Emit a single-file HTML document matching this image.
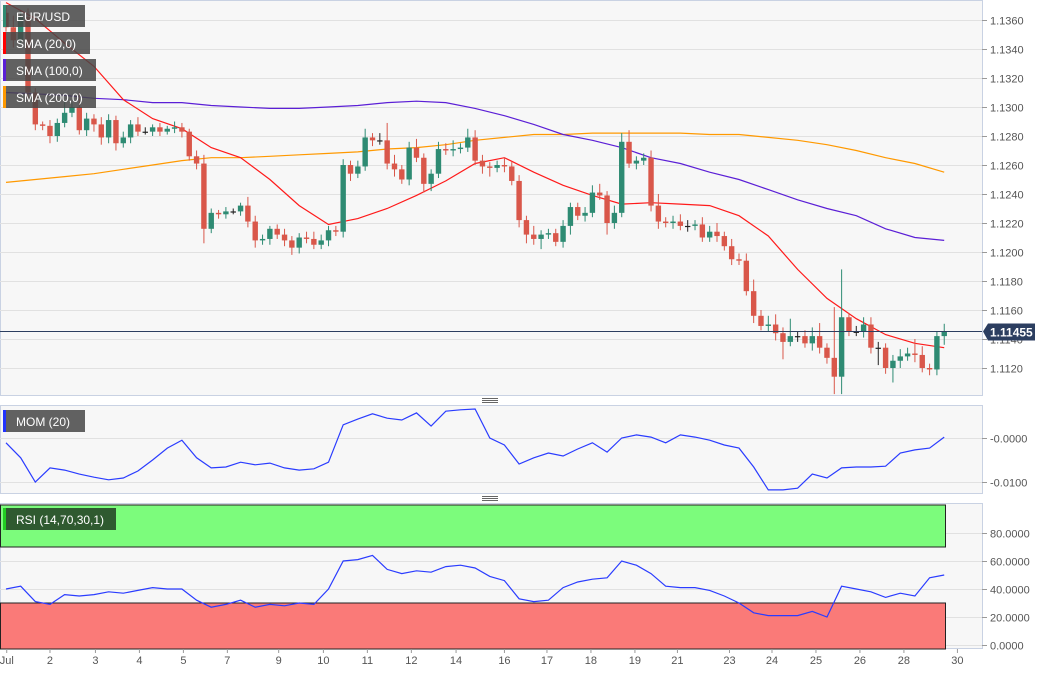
<!DOCTYPE html>
<html><head><meta charset="utf-8"><style>
body{margin:0;background:#fff;font-family:"Liberation Sans",sans-serif;}
svg{display:block}
text{font-family:"Liberation Sans",sans-serif}
</style></head><body>
<svg id="chart" width="1053" height="673" viewBox="0 0 1053 673" xmlns="http://www.w3.org/2000/svg">
<rect width="1053" height="673" fill="#ffffff"/>
<rect x="0.5" y="0.5" width="982" height="395" fill="#f7f7f7" stroke="#c9d2e3"/>
<rect x="0.5" y="405.5" width="982" height="88" fill="#f7f7f7" stroke="#c9d2e3"/>
<rect x="0.5" y="503.5" width="982" height="145" fill="#f7f7f7" stroke="#c9d2e3"/>
<g id="grid"></g>
<g id="bands"></g>
<g id="lines"></g>
<g id="candles"></g>
<g id="axes"></g>
<g stroke="#666"><line x1="482" x2="498" y1="398.5" y2="398.5"/><line x1="482" x2="498" y1="400.5" y2="400.5"/><line x1="482" x2="498" y1="402.5" y2="402.5"/></g>
<g stroke="#666"><line x1="482" x2="498" y1="496.5" y2="496.5"/><line x1="482" x2="498" y1="498.5" y2="498.5"/><line x1="482" x2="498" y1="500.5" y2="500.5"/></g>
<g><rect x="3" y="5" width="82" height="22" fill="rgba(70,70,70,0.85)"/><rect x="3" y="5" width="3" height="22" fill="#2e8b73"/><text x="16" y="21" font-size="12" fill="#fff">EUR/USD</text></g>
<g><rect x="3" y="32" width="87" height="22" fill="rgba(70,70,70,0.85)"/><rect x="3" y="32" width="3" height="22" fill="#ff0000"/><text x="16" y="48" font-size="12" fill="#fff">SMA (20,0)</text></g>
<g><rect x="3" y="59" width="93" height="22" fill="rgba(70,70,70,0.85)"/><rect x="3" y="59" width="3" height="22" fill="#5b1fd6"/><text x="16" y="75" font-size="12" fill="#fff">SMA (100,0)</text></g>
<g><rect x="3" y="86" width="93" height="22" fill="rgba(70,70,70,0.85)"/><rect x="3" y="86" width="3" height="22" fill="#ff9900"/><text x="16" y="102" font-size="12" fill="#fff">SMA (200,0)</text></g>
<g><rect x="3" y="410" width="82" height="22" fill="rgba(70,70,70,0.85)"/><rect x="3" y="410" width="3" height="22" fill="#2233ff"/><text x="16" y="426" font-size="12" fill="#fff">MOM (20)</text></g>
<g><rect x="3" y="508" width="113" height="22" fill="#2f5a30"/><rect x="3" y="508" width="3" height="22" fill="#22cc22"/><text x="16" y="524" font-size="12" fill="#fff">RSI (14,70,30,1)</text></g>
</svg>
<script>
const closes=[1.1355,1.1346,1.1362,1.1310,1.1288,1.1287,1.1280,1.1289,1.1296,1.1300,
1.1284,1.1292,1.1288,1.1279,1.1291,1.1275,1.1279,1.1288,1.1283,1.1283,
1.1286,1.1283,1.1285,1.1286,1.1283,1.1266,1.1261,1.1216,1.1227,1.1226,
1.1228,1.1228,1.1232,1.1221,1.1208,1.1209,1.1216,1.1212,1.1208,1.1203,
1.1210,1.1209,1.1205,1.1208,1.1215,1.1214,1.1260,1.1254,1.1259,1.1279,
1.1277,1.1277,1.1261,1.1257,1.1250,1.1272,1.1265,1.1247,1.1254,1.1271,
1.1270,1.1271,1.1272,1.1279,1.1263,1.1259,1.1258,1.1260,1.1259,1.1249,
1.1222,1.1212,1.1209,1.1212,1.1213,1.1207,1.1218,1.1231,1.1225,1.1227,
1.1241,1.1239,1.1220,1.1227,1.1276,1.1261,1.1263,1.1265,1.1232,1.1221,
1.1220,1.1221,1.1218,1.1218,1.1219,1.1210,1.1214,1.1211,1.1204,1.1195,
1.1194,1.1173,1.1156,1.1149,1.1150,1.1144,1.1138,1.1142,1.1142,1.1137,
1.1142,1.1134,1.1127,1.1114,1.1155,1.1145,1.1145,1.1150,1.1134,1.1134,
1.1120,1.1125,1.1128,1.1130,1.1129,1.1120,1.1119,1.1142,1.11455];
const firstOpen=1.1365;
const hiPips=[5,8,4,6,3,2,4,3,8,3,10,4,3,5,4,3,4,3,5,3,2,3,2,4,3,2,4,6,3,2,3,2,2,6,4,3,2,3,4,3,3,4,5,4,3,3,4,3,4,6,3,5,12,6,3,4,6,3,3,5,4,6,3,6,5,4,3,3,5,3,4,3,6,3,3,3,4,3,3,4,5,6,3,5,6,8,3,3,5,8,3,4,5,4,3,5,4,6,3,5,4,5,8,4,6,7,4,12,3,4,6,9,3,35,33,3,4,5,5,4,3,4,5,4,10,6,3,3,5];
const loPips=[3,5,3,6,4,3,5,4,3,3,3,4,5,5,4,5,3,4,3,2,3,3,2,3,4,3,4,10,3,3,3,2,3,4,5,3,4,3,4,5,4,3,3,3,4,3,4,5,3,3,4,3,4,5,3,4,3,6,5,3,3,4,3,3,3,5,6,3,4,3,5,6,4,7,3,3,4,6,3,4,3,3,8,4,3,3,4,3,4,5,3,4,3,4,3,3,3,4,3,4,3,3,5,3,4,5,12,3,4,3,5,4,4,12,12,3,3,4,4,12,4,10,5,3,5,3,4,4,6];
const knotIdx=[0,4,8,12,16,20,24,28,32,36,40,44,48,52,56,60,64,68,72,76,80,84,88,92,96,100,104,108,112,116,120,124,128];
const sma20=[1.1372,1.1361,1.1344,1.1328,1.1305,1.1292,1.1285,1.1272,1.1265,1.1250,1.1232,1.1219,1.1223,1.1230,1.1239,1.1249,1.1261,1.1265,1.1255,1.1246,1.1239,1.1233,1.1234,1.1233,1.1232,1.1225,1.1211,1.1188,1.1168,1.1154,1.1143,1.1137,1.1134];
const sma100=[1.1310,1.1309,1.1308,1.1306,1.1305,1.1303,1.1303,1.1301,1.1300,1.1299,1.1299,1.1300,1.1301,1.1303,1.1304,1.1303,1.1299,1.1294,1.1288,1.1281,1.1277,1.1272,1.1265,1.1261,1.1255,1.1250,1.1243,1.1236,1.1230,1.1225,1.1216,1.1210,1.1208];
const sma200=[1.1248,1.1250,1.1252,1.1254,1.1257,1.1260,1.1263,1.1265,1.1265,1.1266,1.1267,1.1268,1.1269,1.1271,1.1272,1.1274,1.1277,1.1279,1.1281,1.1281,1.1282,1.1282,1.1282,1.1282,1.1281,1.1281,1.1279,1.1277,1.1274,1.1270,1.1265,1.1261,1.1255];
const momIdx=[0,2,4,6,8,10,12,14,16,18,20,22,24,26,28,30,32,34,36,38,40,42,44,46,48,50,52,54,56,58,60,62,64,66,68,70,72,74,76,78,80,82,84,86,88,90,92,94,96,98,100,102,104,106,108,110,112,114,116,118,120,122,124,126,128];
const mom=[-0.0011,-0.0045,-0.0100,-0.0068,-0.0073,-0.0082,-0.0089,-0.0095,-0.0091,-0.0075,-0.0050,-0.0023,-0.0005,-0.0045,-0.0068,-0.0066,-0.0055,-0.0061,-0.0057,-0.0068,-0.0073,-0.0070,-0.0055,0.0030,0.0043,0.0055,0.0045,0.0041,0.0057,0.0027,0.0061,0.0064,0.0066,0.0000,-0.0016,-0.0059,-0.0045,-0.0034,-0.0041,-0.0025,-0.0011,-0.0032,0.0000,0.0007,0.0002,-0.0011,0.0007,0.0002,-0.0005,-0.0016,-0.0023,-0.0066,-0.0118,-0.0118,-0.0114,-0.0082,-0.0091,-0.0068,-0.0066,-0.0066,-0.0064,-0.0034,-0.0027,-0.0023,0.0002];
const rsi=[40,42,31,29,36,35,36,38,37,39,41,40,40,32,27,29,32,27,29,28,30,29,40,60,61,64,54,51,53,52,56,57,55,49,46,33,31,32,41,45,47,48,60,57,51,42,41,41,39,35,30,23,21,21,21,24,20,42,40,38,34,37,35,48,50];
const priceTicks=[1.1360,1.1340,1.1320,1.1300,1.1280,1.1260,1.1240,1.1220,1.1200,1.1180,1.1160,1.1140,1.1120];
const momTicks=[0,-0.01];
const momTickLabels=["-0.0000","-0.0100"];
const rsiTicks=[80,60,40,20,0];
const dateLabels=["Jul","2","3","4","5","7","9","10","11","12","14","16","17","18","19","21","23","24","25","26","28","30"];
const dateIdx=[0.1,6,12.2,18.2,24.2,30.2,37.2,43.3,49.3,55.3,61.4,68,73.8,79.8,85.8,91.6,98.7,104.5,110.5,116.5,122.5,129.8];
const lastPrice=1.11455;

const NS="http://www.w3.org/2000/svg";
const X=i=>6+i*7.33;
const YP=p=>20+(1.1360-p)/0.002*29;
const YM=v=>438-v*4400;
const YR=v=>645-v*1.4;
function mk(tag,attrs,parent){const e=document.createElementNS(NS,tag);for(const k in attrs)e.setAttribute(k,attrs[k]);document.getElementById(parent).appendChild(e);return e;}

// grid + axes
priceTicks.forEach(p=>{const y=Math.round(YP(p))+0.5;
 const g=mk('line',{x1:0,x2:982,y1:y,y2:y,stroke:'#e1e1e1'},'grid');
 
 
 mk('line',{x1:982,x2:987,y1:y,y2:y,stroke:'#999'},'axes');
 const t=mk('text',{x:990,y:y+4,'font-size':11,fill:'#555'},'axes');t.textContent=p.toFixed(4);
 
 });
momTicks.forEach((v,k)=>{const y=Math.round(YM(v))+0.5;
 const g=mk('line',{x1:0,x2:982,y1:y,y2:y,stroke:'#e1e1e1'},'grid');
 
 
 mk('line',{x1:982,x2:987,y1:y,y2:y,stroke:'#999'},'axes');
 const t=mk('text',{x:990,y:y+4,'font-size':11,fill:'#555'},'axes');t.textContent=momTickLabels[k];
 
 });
rsiTicks.forEach(v=>{const y=Math.round(YR(v))+0.5;
 const g=mk('line',{x1:0,x2:982,y1:y,y2:y,stroke:'#e1e1e1'},'grid');
 
 
 mk('line',{x1:982,x2:987,y1:y,y2:y,stroke:'#999'},'axes');
 const t=mk('text',{x:990,y:y+4,'font-size':11,fill:'#555'},'axes');t.textContent=v.toFixed(4);
 
 });
dateLabels.forEach((d,k)=>{const x=X(dateIdx[k]);
 mk('line',{x1:x,x2:x,y1:649,y2:653,stroke:'#999'},'axes');
 const t=mk('text',{x:x,y:664,'font-size':11,fill:'#555','text-anchor':'middle'},'axes');t.textContent=d;
 
 });

// RSI bands
const ob=mk('rect',{x:0.5,y:YR(100)+0.5>505?505:505,width:945,height:YR(70)-505,fill:'#7cfc7c',stroke:'#222','stroke-width':1},'bands');


const os=mk('rect',{x:0.5,y:YR(30),width:945,height:649-YR(30),fill:'#fa7a78',stroke:'#222','stroke-width':1},'bands');



// lines
function poly(idx,vals,fy,color,name,w){const pts=idx.map((i,k)=>X(i).toFixed(1)+','+fy(vals[k]).toFixed(1)).join(' ');
 const l=mk('polyline',{points:pts,fill:'none',stroke:color,'stroke-width':w||1.2},'lines');
 
 }
poly(knotIdx,sma200,YP,'#ff9900','sma200-line');
poly(knotIdx,sma100,YP,'#5b1fd6','sma100-line');
poly(knotIdx,sma20,YP,'#ff1a1a','sma20-line');
poly(momIdx,mom,YM,'#2a3cff','mom-line');
poly(momIdx,rsi,YR,'#2a3cff','rsi-line');

// candles
closes.forEach((c,i)=>{const o=i===0?firstOpen:closes[i-1];
 const up=c>o, flat=Math.abs(c-o)<0.00005;
 const col=flat?'#222':(up?'#2e8b73':'#d9574a');
 const hi=Math.max(o,c)+hiPips[i]*0.0001, lo=Math.min(o,c)-loPips[i]*0.0001;
 const x=X(i);
 const w=mk('line',{x1:x,x2:x,y1:YP(hi),y2:YP(lo),stroke:col,'stroke-width':1},'candles');
 
 
 const yt=YP(Math.max(o,c)), yb=YP(Math.min(o,c));
 const b=mk('rect',{x:x-2.7,y:yt,width:5.4,height:Math.max(1.2,yb-yt),fill:col},'candles');
 
 });

// last price line & tag
const ly=Math.round(YP(lastPrice))+0.5;
const pl=mk('line',{x1:0,x2:982,y1:ly,y2:ly,stroke:'#2c3e60','stroke-width':1},'axes');


const tag=mk('path',{d:`M983 ${ly} L988 ${ly-8} L1035 ${ly-8} L1035 ${ly+9} L988 ${ly+9} Z`,fill:'#2c3e60'},'axes');


const tt=mk('text',{x:990,y:ly+5,'font-size':12,'font-weight':'bold',fill:'#fff'},'axes');tt.textContent=lastPrice.toFixed(5);


</script>
</body></html>
